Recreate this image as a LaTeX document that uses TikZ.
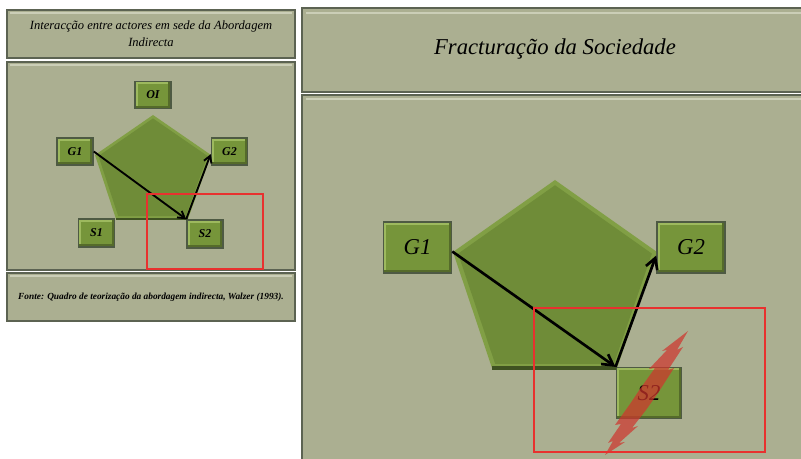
\documentclass[tikz,border=0pt]{standalone}
\usepackage{fontspec}
\setmainfont{Liberation Serif}
\usetikzlibrary{arrows.meta,calc}

\definecolor{panelbg}{HTML}{ABAF91}
\definecolor{panelline}{HTML}{5C6352}
\definecolor{panellight}{HTML}{CBCEB7}
\definecolor{actorgreen}{HTML}{76953A}
\definecolor{actorline}{HTML}{4E5A43}
\definecolor{actorlight}{HTML}{9DB95E}
\definecolor{actordark}{HTML}{556B2A}
\definecolor{pentagreen}{HTML}{6F8C38}
\definecolor{pentalight}{HTML}{819F45}
\definecolor{pentadark}{HTML}{3F5221}
\definecolor{markred}{HTML}{E8312F}
\definecolor{strikered}{HTML}{D0342C}

\tikzset{
  panel/.style={fill=panelbg,draw=panelline,line width=1.4pt},
  bevel/.style={draw=panellight,line width=1pt},
  actor/.style={fill=actorgreen,draw=actorline,line width=1.2pt,inner sep=0pt,
    path picture={
      \draw[actorlight,line width=4pt] (path picture bounding box.south west) -- (path picture bounding box.north west)
        -- (path picture bounding box.north east);
      \draw[actordark,line width=4pt] (path picture bounding box.north east) -- (path picture bounding box.south east)
        -- (path picture bounding box.south west);
    }},
  smallactor/.style={actor,minimum width=27pt,minimum height=20pt,font=\bfseries\itshape\fontsize{9}{10}\selectfont},
  bigactor/.style={actor,minimum width=51pt,minimum height=38pt,font=\itshape\fontsize{17}{19}\selectfont},
  link/.style={-{Straight Barb[length=5pt,width=6pt]},line width=1.4pt},
  biglink/.style={-{Straight Barb[length=8pt,width=9pt]},line width=2pt},
  focus/.style={draw=markred,line width=1.7pt}
}

\begin{document}
\begin{tikzpicture}[x=0.75pt,y=-0.75pt]
\useasboundingbox[fill=white] (0,0) rectangle (801,459);
\clip (0,0) rectangle (801,459);

% left panel
\draw[panel] (7,10) rectangle (295,58);
\draw[bevel] (10,13) -- (292,13);
\node (ltitle) at (151,34) [align=center,font=\itshape\fontsize{9.4}{13}\selectfont]
  {Interacção entre actores em sede da Abordagem\\Indirecta};
\draw[panel] (7,62) rectangle (295,270);
\draw[bevel] (10,65) -- (292,65);
\draw[panel] (7,273) rectangle (295,321);
\draw[bevel] (10,276) -- (292,276);
\node (lsource) at (151,297) [font=\bfseries\itshape\fontsize{7}{8}\selectfont]
  {Fonte: Quadro de teorização da abordagem indirecta, Walzer (1993).};

\coordinate (lc) at (153,172);
\coordinate (lp1) at (153,115);
\coordinate (lp2) at (211,155);
\coordinate (lp3) at (188,219);
\coordinate (lp4) at (116,219);
\coordinate (lp5) at (95,155);
\fill[pentalight] (lp1) -- (lp2) -- (lp3) -- (lp4) -- (lp5) -- cycle;
\fill[pentagreen] ($(lc)!0.94!(lp1)$) -- ($(lc)!0.94!(lp2)$) -- ($(lc)!0.94!(lp3)$)
  -- ($(lc)!0.94!(lp4)$) -- ($(lc)!0.94!(lp5)$) -- cycle;
\draw[pentadark,line width=1.5pt] (lp4) -- (lp3);

\node[smallactor] (lOI) at (153,95) {OI};
\node[smallactor] (lG1) at (75,151.5) {G1};
\node[smallactor] (lG2) at (229.5,151.5) {G2};
\node[smallactor,minimum height=21pt] (lS1) at (96.5,233) {S1};
\node[smallactor,minimum height=21pt] (lS2) at (205,234) {S2};

\draw[link] (lG1.east) -- (lS2.north west);
\draw[link] (lS2.north west) -- ([yshift=-2pt]lG2.west);
\draw[focus] (147,194) rectangle (263,269);

% right panel
\draw[panel] (302,8) rectangle (806,92);
\draw[bevel] (306,13) -- (806,13);
\node (rtitle) at (555,49) [font=\itshape\fontsize{17}{20}\selectfont] {Fracturação da Sociedade};
\draw[panel] (302,95) rectangle (806,466);
\draw[bevel] (306,99) -- (806,99);

\coordinate (rc) at (555,285);
\coordinate (rp1) at (555,180);
\coordinate (rp2) at (657,252);
\coordinate (rp3) at (617,368);
\coordinate (rp4) at (492,368);
\coordinate (rp5) at (453,252);
\fill[pentalight] (rp1) -- (rp2) -- (rp3) -- (rp4) -- (rp5) -- cycle;
\fill[pentagreen] ($(rc)!0.95!(rp1)$) -- ($(rc)!0.95!(rp2)$) -- ($(rc)!0.95!(rp3)$)
  -- ($(rc)!0.95!(rp4)$) -- ($(rc)!0.95!(rp5)$) -- cycle;
\draw[pentadark,line width=2.5pt] (rp4) -- (rp3);

\node[bigactor] (rG1) at (417.5,247.5) {G1};
\node[bigactor] (rG2) at (691,247.5) {G2};
\node[bigactor,minimum width=49pt] (rS2) at (649,393) {S2};

\draw[biglink] ([yshift=-3pt]rG1.east) -- (rS2.north west);
\draw[biglink] (rS2.north west) -- ([yshift=-6pt]rG2.west);

% strike over S2
\fill[strikered,opacity=0.7] (688,331) -- (677,350) -- (683,347) -- (668,370) -- (674,368)
  -- (658,393) -- (646,410) -- (632,428) -- (638,426) -- (619,443) -- (625,442) -- (605,455)
  -- (613,441) -- (608,443) -- (621,424) -- (615,425) -- (630,404) -- (640,389)
  -- (655,368) -- (649,369) -- (667,350) -- (662,351) -- cycle;
\draw[focus] (534,308) rectangle (765,452);
\end{tikzpicture}
\end{document}
